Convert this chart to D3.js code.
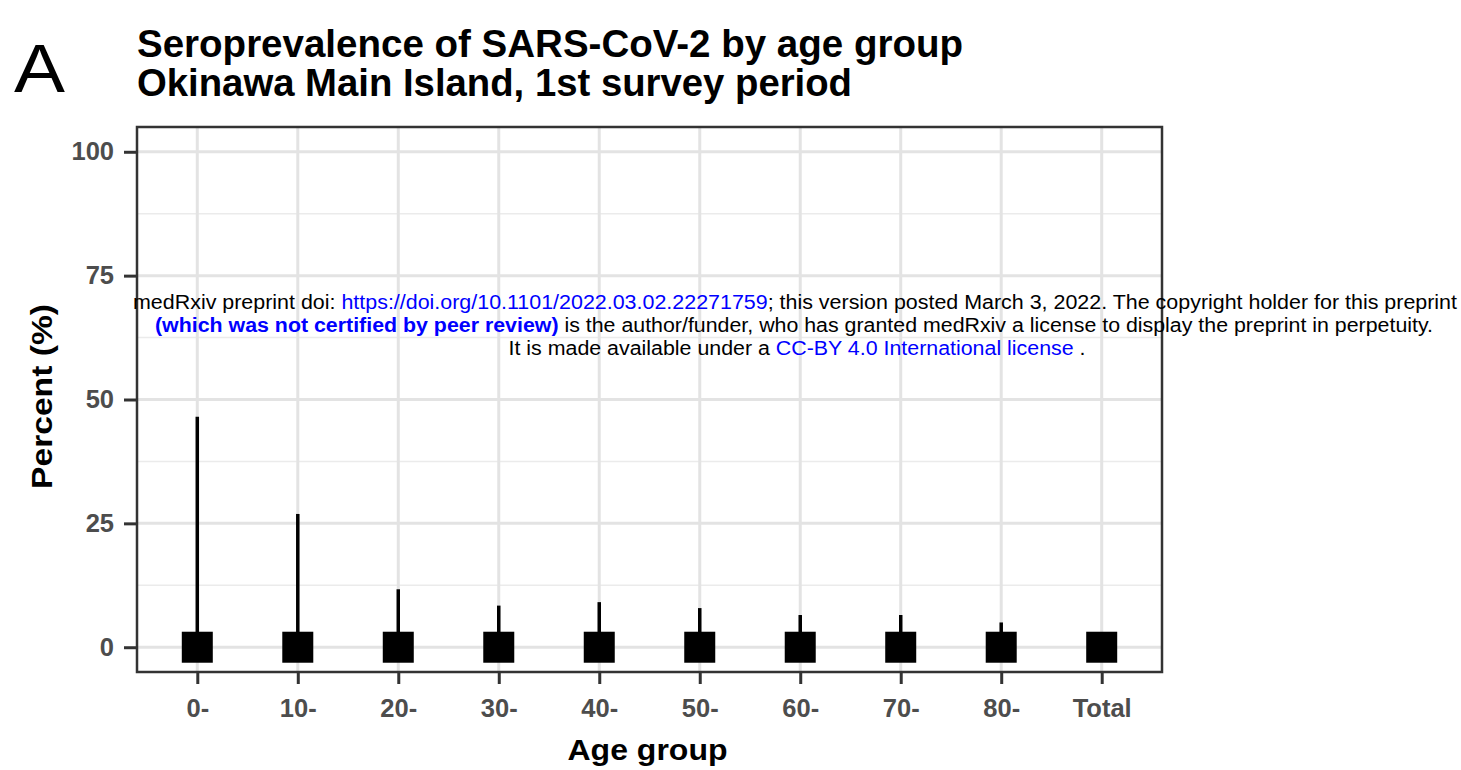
<!DOCTYPE html>
<html><head><meta charset="utf-8">
<script src="https://cdn.jsdelivr.net/npm/d3@7"></script>
<style>body{margin:0;background:#fff;} svg{display:block;font-family:"Liberation Sans",Arial,sans-serif;}</style>
</head><body>
<svg id="c" width="1461" height="770"></svg>
<script>
const categories = ["0-","10-","20-","30-","40-","50-","60-","70-","80-","Total"];
const estimate = [0,0,0,0,0,0,0,0,0,0];
const lower = [0,0,0,0,0,0,0,0,0,0];
const upper = [46.5,26.9,11.7,8.4,9.1,7.9,6.5,6.5,5.0,1.0];
const yTicks = [0,25,50,75,100];
const yMinor = [12.5,37.5,62.5,87.5];

const svg = d3.select("#c");
const L=137, R=1162, T=127, B=672;
const x = d3.scalePoint().domain(categories).range([L,R]).padding(0.6);
const y = d3.scaleLinear().domain([-5,105]).range([B,T]);

function fit(sel, w){ sel.attr("textLength",w).attr("lengthAdjust","spacingAndGlyphs"); return sel; }

// grid
svg.append("g").selectAll("line").data(yMinor).join("line")
  .attr("x1",L).attr("x2",R).attr("y1",d=>y(d)).attr("y2",d=>y(d))
  .attr("stroke","#ebebeb").attr("stroke-width",1.6);
svg.append("g").selectAll("line").data(yTicks).join("line")
  .attr("x1",L).attr("x2",R).attr("y1",d=>y(d)).attr("y2",d=>y(d))
  .attr("stroke","#e3e3e3").attr("stroke-width",3);
svg.append("g").selectAll("line").data(categories).join("line")
  .attr("x1",d=>x(d)).attr("x2",d=>x(d)).attr("y1",T).attr("y2",B)
  .attr("stroke","#e3e3e3").attr("stroke-width",3);

// error bars
const data = categories.map((c,i)=>({c,e:estimate[i],lo:lower[i],hi:upper[i]}));
svg.append("g").selectAll("line").data(data).join("line")
  .attr("x1",d=>x(d.c)).attr("x2",d=>x(d.c)).attr("y1",d=>y(d.lo)).attr("y2",d=>y(d.hi))
  .attr("stroke","#000").attr("stroke-width",3.5);
// points
const S=31;
svg.append("g").selectAll("rect").data(data).join("rect")
  .attr("x",d=>x(d.c)-S/2).attr("y",d=>y(d.e)-S/2).attr("width",S).attr("height",S)
  .attr("fill","#000");

// border
svg.append("rect").attr("x",L).attr("y",T).attr("width",R-L).attr("height",B-T)
  .attr("fill","none").attr("stroke","#333").attr("stroke-width",2.5);

// axes
const xa = svg.append("g").attr("transform",`translate(0,${B})`)
  .call(d3.axisBottom(x).tickSize(12).tickPadding(15));
const ya = svg.append("g").attr("transform",`translate(${L},0)`)
  .call(d3.axisLeft(y).tickValues(yTicks).tickSize(13).tickPadding(10));
[xa,ya].forEach(a=>{
  a.select(".domain").remove();
  a.selectAll(".tick line").attr("stroke","#333").attr("stroke-width",3);
  a.selectAll(".tick text").attr("fill","#4d4d4d").attr("font-size",25.5).attr("font-weight","bold")
   .attr("font-family","'Liberation Sans',Arial,sans-serif");
});

// titles
fit(svg.append("text").attr("x",14).attr("y",92).attr("font-size",68).attr("fill","#000").text("A"),51);
fit(svg.append("text").attr("x",137).attr("y",57).attr("font-size",38).attr("font-weight","bold").text("Seroprevalence of SARS-CoV-2 by age group"),826);
fit(svg.append("text").attr("x",137).attr("y",96).attr("font-size",38).attr("font-weight","bold").text("Okinawa Main Island, 1st survey period"),715);
fit(svg.append("text").attr("transform",`translate(52,${(T+B)/2-3}) rotate(-90)`).attr("text-anchor","middle")
  .attr("font-size",30).attr("font-weight","bold").text("Percent (%)"),185);
fit(svg.append("text").attr("x",(L+R)/2-2).attr("y",760).attr("text-anchor","middle")
  .attr("font-size",30).attr("font-weight","bold").text("Age group"),160);

// watermark
const wm = svg.append("g").attr("font-size",20).attr("text-anchor","middle");
const l1 = fit(wm.append("text").attr("x",795).attr("y",309),1324);
l1.append("tspan").text("medRxiv preprint doi: ");
l1.append("tspan").attr("fill","#0000ff").text("https://doi.org/10.1101/2022.03.02.22271759");
l1.append("tspan").text("; this version posted March 3, 2022. The copyright holder for this preprint");
const l2 = fit(wm.append("text").attr("x",794).attr("y",332),1278);
l2.append("tspan").attr("fill","#0000ff").attr("font-weight","bold").text("(which was not certified by peer review)");
l2.append("tspan").text(" is the author/funder, who has granted medRxiv a license to display the preprint in perpetuity.");
const l3 = fit(wm.append("text").attr("x",797).attr("y",355),577);
l3.append("tspan").text("It is made available under a ");
l3.append("tspan").attr("fill","#0000ff").text("CC-BY 4.0 International license");
l3.append("tspan").text(" .");
</script>
</body></html>
